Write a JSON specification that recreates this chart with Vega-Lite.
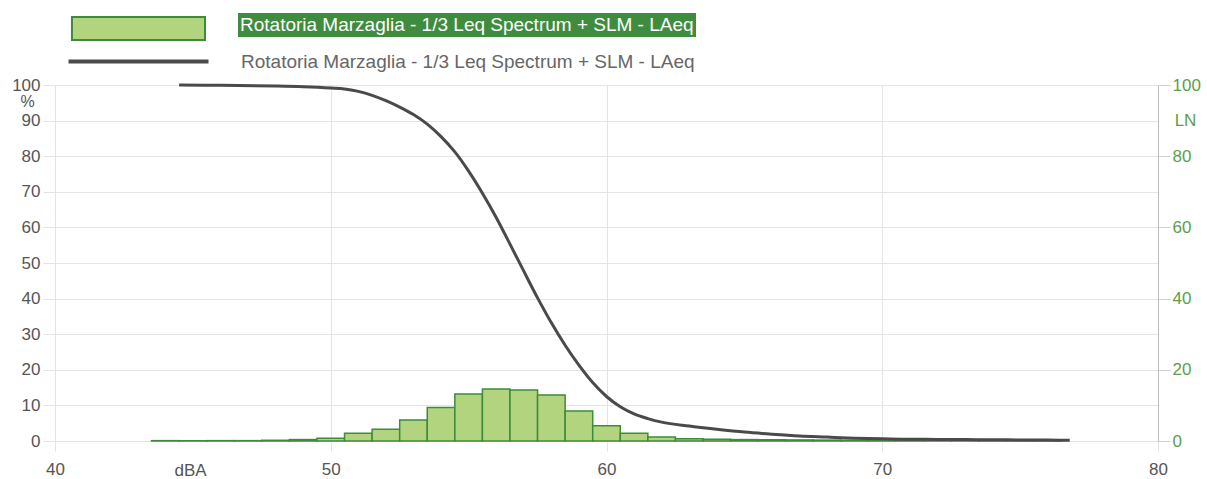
{
  "$schema": "https://vega.github.io/schema/vega-lite/v6.json",
  "width": 1103,
  "height": 356,
  "autosize": {"type": "none"},
  "padding": {"left": 55, "top": 85, "right": 49, "bottom": 38},
  "background": "white",
  "config": {
    "font": "Liberation Sans",
    "view": {"stroke": null},
    "axis": {"labelFont": "Liberation Sans", "titleFont": "Liberation Sans", "titleFontWeight": "normal", "labelFlush": false},
    "legend": {"labelFont": "Liberation Sans"}
  },
  "datasets": {
    "hist": [
      {"lo": 43.5, "hi": 44.5, "ln": 0.1, "barName": "Rotatoria Marzaglia - 1/3 Leq Spectrum + SLM - LAeq", "barLabel": "Rotatoria Marzaglia - 1/3 Leq Spectrum + SLM - LAeq"},
      {"lo": 44.5, "hi": 45.5, "ln": 0.1, "barName": "Rotatoria Marzaglia - 1/3 Leq Spectrum + SLM - LAeq", "barLabel": "Rotatoria Marzaglia - 1/3 Leq Spectrum + SLM - LAeq"},
      {"lo": 45.5, "hi": 46.5, "ln": 0.1, "barName": "Rotatoria Marzaglia - 1/3 Leq Spectrum + SLM - LAeq", "barLabel": "Rotatoria Marzaglia - 1/3 Leq Spectrum + SLM - LAeq"},
      {"lo": 46.5, "hi": 47.5, "ln": 0.1, "barName": "Rotatoria Marzaglia - 1/3 Leq Spectrum + SLM - LAeq", "barLabel": "Rotatoria Marzaglia - 1/3 Leq Spectrum + SLM - LAeq"},
      {"lo": 47.5, "hi": 48.5, "ln": 0.2, "barName": "Rotatoria Marzaglia - 1/3 Leq Spectrum + SLM - LAeq", "barLabel": "Rotatoria Marzaglia - 1/3 Leq Spectrum + SLM - LAeq"},
      {"lo": 48.5, "hi": 49.5, "ln": 0.4, "barName": "Rotatoria Marzaglia - 1/3 Leq Spectrum + SLM - LAeq", "barLabel": "Rotatoria Marzaglia - 1/3 Leq Spectrum + SLM - LAeq"},
      {"lo": 49.5, "hi": 50.5, "ln": 0.8, "barName": "Rotatoria Marzaglia - 1/3 Leq Spectrum + SLM - LAeq", "barLabel": "Rotatoria Marzaglia - 1/3 Leq Spectrum + SLM - LAeq"},
      {"lo": 50.5, "hi": 51.5, "ln": 2.2, "barName": "Rotatoria Marzaglia - 1/3 Leq Spectrum + SLM - LAeq", "barLabel": "Rotatoria Marzaglia - 1/3 Leq Spectrum + SLM - LAeq"},
      {"lo": 51.5, "hi": 52.5, "ln": 3.3, "barName": "Rotatoria Marzaglia - 1/3 Leq Spectrum + SLM - LAeq", "barLabel": "Rotatoria Marzaglia - 1/3 Leq Spectrum + SLM - LAeq"},
      {"lo": 52.5, "hi": 53.5, "ln": 5.9, "barName": "Rotatoria Marzaglia - 1/3 Leq Spectrum + SLM - LAeq", "barLabel": "Rotatoria Marzaglia - 1/3 Leq Spectrum + SLM - LAeq"},
      {"lo": 53.5, "hi": 54.5, "ln": 9.4, "barName": "Rotatoria Marzaglia - 1/3 Leq Spectrum + SLM - LAeq", "barLabel": "Rotatoria Marzaglia - 1/3 Leq Spectrum + SLM - LAeq"},
      {"lo": 54.5, "hi": 55.5, "ln": 13.2, "barName": "Rotatoria Marzaglia - 1/3 Leq Spectrum + SLM - LAeq", "barLabel": "Rotatoria Marzaglia - 1/3 Leq Spectrum + SLM - LAeq"},
      {"lo": 55.5, "hi": 56.5, "ln": 14.6, "barName": "Rotatoria Marzaglia - 1/3 Leq Spectrum + SLM - LAeq", "barLabel": "Rotatoria Marzaglia - 1/3 Leq Spectrum + SLM - LAeq"},
      {"lo": 56.5, "hi": 57.5, "ln": 14.3, "barName": "Rotatoria Marzaglia - 1/3 Leq Spectrum + SLM - LAeq", "barLabel": "Rotatoria Marzaglia - 1/3 Leq Spectrum + SLM - LAeq"},
      {"lo": 57.5, "hi": 58.5, "ln": 12.9, "barName": "Rotatoria Marzaglia - 1/3 Leq Spectrum + SLM - LAeq", "barLabel": "Rotatoria Marzaglia - 1/3 Leq Spectrum + SLM - LAeq"},
      {"lo": 58.5, "hi": 59.5, "ln": 8.4, "barName": "Rotatoria Marzaglia - 1/3 Leq Spectrum + SLM - LAeq", "barLabel": "Rotatoria Marzaglia - 1/3 Leq Spectrum + SLM - LAeq"},
      {"lo": 59.5, "hi": 60.5, "ln": 4.3, "barName": "Rotatoria Marzaglia - 1/3 Leq Spectrum + SLM - LAeq", "barLabel": "Rotatoria Marzaglia - 1/3 Leq Spectrum + SLM - LAeq"},
      {"lo": 60.5, "hi": 61.5, "ln": 2.2, "barName": "Rotatoria Marzaglia - 1/3 Leq Spectrum + SLM - LAeq", "barLabel": "Rotatoria Marzaglia - 1/3 Leq Spectrum + SLM - LAeq"},
      {"lo": 61.5, "hi": 62.5, "ln": 1.1, "barName": "Rotatoria Marzaglia - 1/3 Leq Spectrum + SLM - LAeq", "barLabel": "Rotatoria Marzaglia - 1/3 Leq Spectrum + SLM - LAeq"},
      {"lo": 62.5, "hi": 63.5, "ln": 0.6, "barName": "Rotatoria Marzaglia - 1/3 Leq Spectrum + SLM - LAeq", "barLabel": "Rotatoria Marzaglia - 1/3 Leq Spectrum + SLM - LAeq"},
      {"lo": 63.5, "hi": 64.5, "ln": 0.5, "barName": "Rotatoria Marzaglia - 1/3 Leq Spectrum + SLM - LAeq", "barLabel": "Rotatoria Marzaglia - 1/3 Leq Spectrum + SLM - LAeq"},
      {"lo": 64.5, "hi": 65.5, "ln": 0.4, "barName": "Rotatoria Marzaglia - 1/3 Leq Spectrum + SLM - LAeq", "barLabel": "Rotatoria Marzaglia - 1/3 Leq Spectrum + SLM - LAeq"},
      {"lo": 65.5, "hi": 66.5, "ln": 0.35, "barName": "Rotatoria Marzaglia - 1/3 Leq Spectrum + SLM - LAeq", "barLabel": "Rotatoria Marzaglia - 1/3 Leq Spectrum + SLM - LAeq"},
      {"lo": 66.5, "hi": 67.5, "ln": 0.3, "barName": "Rotatoria Marzaglia - 1/3 Leq Spectrum + SLM - LAeq", "barLabel": "Rotatoria Marzaglia - 1/3 Leq Spectrum + SLM - LAeq"},
      {"lo": 67.5, "hi": 68.5, "ln": 0.25, "barName": "Rotatoria Marzaglia - 1/3 Leq Spectrum + SLM - LAeq", "barLabel": "Rotatoria Marzaglia - 1/3 Leq Spectrum + SLM - LAeq"},
      {"lo": 68.5, "hi": 69.5, "ln": 0.2, "barName": "Rotatoria Marzaglia - 1/3 Leq Spectrum + SLM - LAeq", "barLabel": "Rotatoria Marzaglia - 1/3 Leq Spectrum + SLM - LAeq"},
      {"lo": 69.5, "hi": 70.5, "ln": 0.15, "barName": "Rotatoria Marzaglia - 1/3 Leq Spectrum + SLM - LAeq", "barLabel": "Rotatoria Marzaglia - 1/3 Leq Spectrum + SLM - LAeq"},
      {"lo": 70.5, "hi": 71.5, "ln": 0.12, "barName": "Rotatoria Marzaglia - 1/3 Leq Spectrum + SLM - LAeq", "barLabel": "Rotatoria Marzaglia - 1/3 Leq Spectrum + SLM - LAeq"},
      {"lo": 71.5, "hi": 72.5, "ln": 0.1, "barName": "Rotatoria Marzaglia - 1/3 Leq Spectrum + SLM - LAeq", "barLabel": "Rotatoria Marzaglia - 1/3 Leq Spectrum + SLM - LAeq"},
      {"lo": 72.5, "hi": 73.5, "ln": 0.1, "barName": "Rotatoria Marzaglia - 1/3 Leq Spectrum + SLM - LAeq", "barLabel": "Rotatoria Marzaglia - 1/3 Leq Spectrum + SLM - LAeq"},
      {"lo": 73.5, "hi": 74.5, "ln": 0.08, "barName": "Rotatoria Marzaglia - 1/3 Leq Spectrum + SLM - LAeq", "barLabel": "Rotatoria Marzaglia - 1/3 Leq Spectrum + SLM - LAeq"},
      {"lo": 74.5, "hi": 75.5, "ln": 0.06, "barName": "Rotatoria Marzaglia - 1/3 Leq Spectrum + SLM - LAeq", "barLabel": "Rotatoria Marzaglia - 1/3 Leq Spectrum + SLM - LAeq"},
      {"lo": 75.5, "hi": 76.5, "ln": 0.05, "barName": "Rotatoria Marzaglia - 1/3 Leq Spectrum + SLM - LAeq", "barLabel": "Rotatoria Marzaglia - 1/3 Leq Spectrum + SLM - LAeq"}
    ],
    "curve": [
      {"db": 44.5, "pct": 100, "lineName": "Rotatoria Marzaglia - 1/3 Leq Spectrum + SLM - LAeq"},
      {"db": 46, "pct": 99.9, "lineName": "Rotatoria Marzaglia - 1/3 Leq Spectrum + SLM - LAeq"},
      {"db": 48, "pct": 99.7, "lineName": "Rotatoria Marzaglia - 1/3 Leq Spectrum + SLM - LAeq"},
      {"db": 49, "pct": 99.5, "lineName": "Rotatoria Marzaglia - 1/3 Leq Spectrum + SLM - LAeq"},
      {"db": 50, "pct": 99.15, "lineName": "Rotatoria Marzaglia - 1/3 Leq Spectrum + SLM - LAeq"},
      {"db": 50.5, "pct": 98.9, "lineName": "Rotatoria Marzaglia - 1/3 Leq Spectrum + SLM - LAeq"},
      {"db": 51, "pct": 98.2, "lineName": "Rotatoria Marzaglia - 1/3 Leq Spectrum + SLM - LAeq"},
      {"db": 51.5, "pct": 97.1, "lineName": "Rotatoria Marzaglia - 1/3 Leq Spectrum + SLM - LAeq"},
      {"db": 52, "pct": 95.6, "lineName": "Rotatoria Marzaglia - 1/3 Leq Spectrum + SLM - LAeq"},
      {"db": 52.5, "pct": 93.8, "lineName": "Rotatoria Marzaglia - 1/3 Leq Spectrum + SLM - LAeq"},
      {"db": 53, "pct": 91.7, "lineName": "Rotatoria Marzaglia - 1/3 Leq Spectrum + SLM - LAeq"},
      {"db": 53.5, "pct": 89.0, "lineName": "Rotatoria Marzaglia - 1/3 Leq Spectrum + SLM - LAeq"},
      {"db": 54, "pct": 85.5, "lineName": "Rotatoria Marzaglia - 1/3 Leq Spectrum + SLM - LAeq"},
      {"db": 54.5, "pct": 81.2, "lineName": "Rotatoria Marzaglia - 1/3 Leq Spectrum + SLM - LAeq"},
      {"db": 55, "pct": 75.8, "lineName": "Rotatoria Marzaglia - 1/3 Leq Spectrum + SLM - LAeq"},
      {"db": 55.5, "pct": 69.6, "lineName": "Rotatoria Marzaglia - 1/3 Leq Spectrum + SLM - LAeq"},
      {"db": 56, "pct": 62.8, "lineName": "Rotatoria Marzaglia - 1/3 Leq Spectrum + SLM - LAeq"},
      {"db": 56.5, "pct": 55.3, "lineName": "Rotatoria Marzaglia - 1/3 Leq Spectrum + SLM - LAeq"},
      {"db": 57, "pct": 47.7, "lineName": "Rotatoria Marzaglia - 1/3 Leq Spectrum + SLM - LAeq"},
      {"db": 57.5, "pct": 40.2, "lineName": "Rotatoria Marzaglia - 1/3 Leq Spectrum + SLM - LAeq"},
      {"db": 58, "pct": 33.2, "lineName": "Rotatoria Marzaglia - 1/3 Leq Spectrum + SLM - LAeq"},
      {"db": 58.5, "pct": 26.9, "lineName": "Rotatoria Marzaglia - 1/3 Leq Spectrum + SLM - LAeq"},
      {"db": 59, "pct": 21.3, "lineName": "Rotatoria Marzaglia - 1/3 Leq Spectrum + SLM - LAeq"},
      {"db": 59.5, "pct": 16.4, "lineName": "Rotatoria Marzaglia - 1/3 Leq Spectrum + SLM - LAeq"},
      {"db": 60, "pct": 12.5, "lineName": "Rotatoria Marzaglia - 1/3 Leq Spectrum + SLM - LAeq"},
      {"db": 60.5, "pct": 9.6, "lineName": "Rotatoria Marzaglia - 1/3 Leq Spectrum + SLM - LAeq"},
      {"db": 61, "pct": 7.6, "lineName": "Rotatoria Marzaglia - 1/3 Leq Spectrum + SLM - LAeq"},
      {"db": 61.5, "pct": 6.3, "lineName": "Rotatoria Marzaglia - 1/3 Leq Spectrum + SLM - LAeq"},
      {"db": 62, "pct": 5.3, "lineName": "Rotatoria Marzaglia - 1/3 Leq Spectrum + SLM - LAeq"},
      {"db": 63, "pct": 4.2, "lineName": "Rotatoria Marzaglia - 1/3 Leq Spectrum + SLM - LAeq"},
      {"db": 64, "pct": 3.3, "lineName": "Rotatoria Marzaglia - 1/3 Leq Spectrum + SLM - LAeq"},
      {"db": 65, "pct": 2.5, "lineName": "Rotatoria Marzaglia - 1/3 Leq Spectrum + SLM - LAeq"},
      {"db": 66, "pct": 1.9, "lineName": "Rotatoria Marzaglia - 1/3 Leq Spectrum + SLM - LAeq"},
      {"db": 67, "pct": 1.4, "lineName": "Rotatoria Marzaglia - 1/3 Leq Spectrum + SLM - LAeq"},
      {"db": 68, "pct": 1.1, "lineName": "Rotatoria Marzaglia - 1/3 Leq Spectrum + SLM - LAeq"},
      {"db": 69, "pct": 0.8, "lineName": "Rotatoria Marzaglia - 1/3 Leq Spectrum + SLM - LAeq"},
      {"db": 70, "pct": 0.6, "lineName": "Rotatoria Marzaglia - 1/3 Leq Spectrum + SLM - LAeq"},
      {"db": 71, "pct": 0.5, "lineName": "Rotatoria Marzaglia - 1/3 Leq Spectrum + SLM - LAeq"},
      {"db": 72, "pct": 0.45, "lineName": "Rotatoria Marzaglia - 1/3 Leq Spectrum + SLM - LAeq"},
      {"db": 73, "pct": 0.4, "lineName": "Rotatoria Marzaglia - 1/3 Leq Spectrum + SLM - LAeq"},
      {"db": 74, "pct": 0.35, "lineName": "Rotatoria Marzaglia - 1/3 Leq Spectrum + SLM - LAeq"},
      {"db": 75, "pct": 0.3, "lineName": "Rotatoria Marzaglia - 1/3 Leq Spectrum + SLM - LAeq"},
      {"db": 76, "pct": 0.25, "lineName": "Rotatoria Marzaglia - 1/3 Leq Spectrum + SLM - LAeq"},
      {"db": 76.8, "pct": 0.2, "lineName": "Rotatoria Marzaglia - 1/3 Leq Spectrum + SLM - LAeq"}
    ]
  },
  "layer": [
    {
      "data": {"name": "hist"},
      "mark": {"type": "bar", "strokeWidth": 1.5},
      "encoding": {
        "x": {
          "field": "lo",
          "type": "quantitative",
          "scale": {"domain": [40, 80], "nice": false, "zero": false},
          "axis": {
            "values": [40, 50, 60, 70, 80],
            "title": "dBA",
            "titleX": 135,
            "titleY": 29,
            "titleAlign": "center",
            "titleBaseline": "middle",
            "titleFontSize": 17,
            "titleColor": "#555",
            "labelFontSize": 17,
            "labelColor": "#555",
            "labelPadding": 10,
            "domain": false,
            "grid": true,
            "gridColor": "#e4e4e4",
            "tickSize": 10,
            "tickColor": "#e4e4e4"
          }
        },
        "x2": {"field": "hi"},
        "y": {
          "field": "ln",
          "type": "quantitative",
          "stack": null,
          "scale": {"domain": [0, 100], "nice": false},
          "axis": {
            "orient": "right",
            "values": [0, 20, 40, 60, 80, 100],
            "title": "LN",
            "titleAngle": 0,
            "titleX": 27,
            "titleY": 35,
            "titleAlign": "center",
            "titleBaseline": "middle",
            "titleFontSize": 17,
            "titleColor": "#5d9e4a",
            "labelColor": "#5d9e4a",
            "labelFontSize": 17,
            "labelPadding": 2,
            "tickSize": 12,
            "tickColor": "#cfcfcf",
            "domain": true,
            "domainColor": "#bdbdbd",
            "grid": false
          }
        },
        "y2": {"datum": 0},
        "fill": {
          "field": "barName",
          "type": "nominal",
          "scale": {"range": ["#b3d47e"]},
          "legend": {
            "orient": "none",
            "legendX": 75,
            "legendY": -65,
            "title": null,
            "padding": 0,
            "symbolType": "M-10,-1.73L10,-1.73L10,1.73L-10,1.73Z",
            "symbolSize": 177,
            "symbolStrokeColor": "#3e8b3b",
            "symbolStrokeWidth": 2,
            "symbolOpacity": 1,
            "labelExpr": "''",
            "labelFontSize": 17
          }
        },
        "stroke": {
          "field": "barLabel",
          "type": "nominal",
          "scale": {"range": ["#3e8b3b"]},
          "legend": {
            "orient": "none",
            "legendX": 183,
            "legendY": -72,
            "title": null,
            "padding": 2,
            "fillColor": "#3f8c3f",
            "symbolSize": 0,
            "symbolOpacity": 0,
            "symbolStrokeWidth": 0,
            "labelColor": "#ffffff",
            "labelFontSize": 19,
            "labelOffset": -19,
            "labelLimit": 0
          }
        }
      }
    },
    {
      "data": {"name": "curve"},
      "mark": {"type": "line", "strokeWidth": 3, "interpolate": "monotone"},
      "encoding": {
        "x": {"field": "db", "type": "quantitative", "title": "dBA"},
        "y": {
          "field": "pct",
          "type": "quantitative",
          "scale": {"domain": [0, 100], "nice": false},
          "axis": {
            "orient": "left",
            "values": [0, 10, 20, 30, 40, 50, 60, 70, 80, 90, 100],
            "title": "%",
            "titleAngle": 0,
            "titleX": -28,
            "titleY": 16,
            "titleAlign": "center",
            "titleBaseline": "middle",
            "titleFontSize": 16,
            "titleColor": "#555",
            "labelColor": "#555",
            "labelFontSize": 17,
            "labelPadding": 3,
            "tickSize": 12,
            "tickColor": "#e4e4e4",
            "domain": false,
            "grid": true,
            "gridColor": "#e4e4e4"
          }
        },
        "stroke": {
          "field": "lineName",
          "type": "nominal",
          "scale": {"range": ["#4a4a4a"]},
          "legend": {
            "orient": "none",
            "legendX": 74,
            "legendY": -33,
            "title": null,
            "padding": 0,
            "symbolType": "M-10,0L10,0",
            "symbolSize": 196,
            "symbolStrokeWidth": 4,
            "labelColor": "#666666",
            "labelFontSize": 19,
            "labelOffset": 93,
            "labelLimit": 0
          }
        }
      }
    }
  ],
  "resolve": {
    "scale": {"y": "independent", "stroke": "independent"},
    "axis": {"y": "independent"},
    "legend": {"stroke": "independent"}
  }
}
